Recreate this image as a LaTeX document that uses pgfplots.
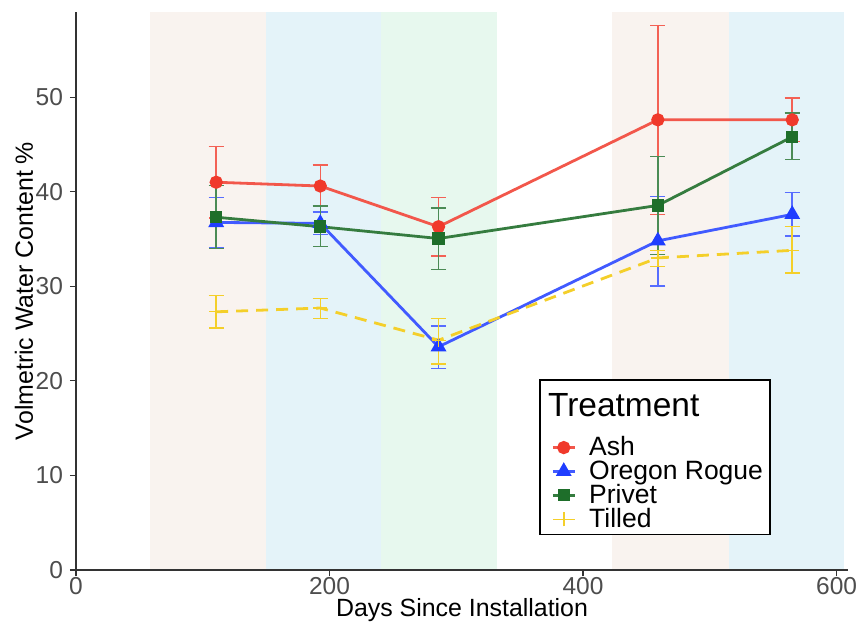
\documentclass[border=0pt]{standalone}
\usepackage{fontspec}
\setmainfont{Liberation Sans}
\usepackage{pgfplots}
\pgfplotsset{compat=1.18}

\definecolor{ashc}{HTML}{F0392B}
\definecolor{orc}{HTML}{1F3DFF}
\definecolor{prc}{HTML}{1E6E2A}
\definecolor{tic}{HTML}{F4CF2A}
\definecolor{bandA}{HTML}{F9F3EF}
\definecolor{bandB}{HTML}{E4F3F9}
\definecolor{bandC}{HTML}{E7F8EE}
\definecolor{tickgray}{HTML}{4D4D4D}

\pgfplotsset{shortleg/.style={legend image code/.code={
    \path (-1.5bp,0bp) (15.5bp,0bp);
    \draw[mark repeat=2, mark phase=2] plot coordinates {(0bp,0bp) (5.5bp,0bp) (11bp,0bp)};}}}

\begin{document}
\begin{tikzpicture}
\useasboundingbox (-38bp,-27.5bp) rectangle (391.5bp,285bp);
\begin{axis}[
    scale only axis,
    width=386bp, height=279bp,
    xmin=0, xmax=609, ymin=0, ymax=59,
    xtick={0,200,400,600}, ytick={0,10,20,30,40,50},
    axis x line*=bottom, axis y line*=left,
    axis on top,
    axis line style={draw=black!80, line width=0.8bp},
    tick style={draw=black!80, line width=0.6bp},
    tick align=outside, major tick length=3bp,
    ticklabel style={font=\fontsize{12.3}{14}\selectfont, text=tickgray},
    xticklabel style={yshift=3bp},
    /pgf/number format/assume math mode=true,
    xlabel={Days Since Installation},
    ylabel={Volmetric Water Content \%},
    label style={font=\fontsize{12.5}{15}\selectfont},
    xlabel style={yshift=5bp},
    ylabel style={yshift=-5.5bp},
    clip=false,
    error bars/y dir=both, error bars/y explicit,
    legend style={at={(0.601,0.063)}, anchor=south west, draw=none, fill=none, yshift=-3bp,
        font=\fontsize{13.3}{13}\selectfont, row sep=-3bp, inner xsep=4bp, inner ysep=3bp},
    legend cell align=left,
]
% seasonal bands
\addplot[fill=bandA, draw=none, forget plot] coordinates {(58.3,0) (149.5,0) (149.5,59) (58.3,59)} -- cycle;
\addplot[fill=bandB, draw=none, forget plot] coordinates {(149.5,0) (240.6,0) (240.6,59) (149.5,59)} -- cycle;
\addplot[fill=bandC, draw=none, forget plot] coordinates {(240.6,0) (332.2,0) (332.2,59) (240.6,59)} -- cycle;
\addplot[fill=bandA, draw=none, forget plot] coordinates {(423,0) (515,0) (515,59) (423,59)} -- cycle;
\addplot[fill=bandB, draw=none, forget plot] coordinates {(515,0) (605.6,0) (605.6,59) (515,59)} -- cycle;

% Ash
\addplot[ashc!85, line width=1.4bp, mark=*, mark size=2.6bp, mark options={fill=ashc, draw=ashc}, shortleg,
    error bars/error bar style={ashc!80, line width=0.75bp},
    error bars/error mark options={rotate=90, mark size=3.8bp, ashc!80, line width=0.75bp}]
coordinates {
(110.6,41.0) += (0,3.8) -= (0,3.8)
(192.7,40.6) += (0,2.2) -= (0,2.1)
(286,36.3) += (0,3.1) -= (0,3.1)
(459,47.6) += (0,10.0) -= (0,10.0)
(565,47.6) += (0,2.3) -= (0,2.3)
};
\addlegendentry{Ash}

% Oregon Rogue
\addplot[orc!85, line width=1.4bp, mark=triangle*, mark size=3.2bp, mark options={fill=orc, draw=orc}, shortleg,
    error bars/error bar style={orc!75, line width=0.75bp},
    error bars/error mark options={rotate=90, mark size=3.8bp, orc!75, line width=0.75bp}]
coordinates {
(110.6,36.75) += (0,2.65) -= (0,2.7)
(192.7,36.65) += (0,1.2) -= (0,1.2)
(286,23.6) += (0,2.2) -= (0,2.3)
(459,34.8) += (0,4.7) -= (0,4.75)
(565,37.6) += (0,2.3) -= (0,2.3)
};
\addlegendentry{Oregon Rogue}

% Privet
\addplot[prc!90!white, line width=1.4bp, mark=square*, mark size=2.4bp, mark options={fill=prc, draw=prc}, shortleg,
    error bars/error bar style={prc!80, line width=0.75bp},
    error bars/error mark options={rotate=90, mark size=3.8bp, prc!80, line width=0.75bp}]
coordinates {
(110.6,37.3) += (0,3.35) -= (0,3.3)
(192.7,36.3) += (0,2.2) -= (0,2.1)
(286,35.05) += (0,3.25) -= (0,3.25)
(459,38.55) += (0,5.15) -= (0,5.2)
(565,45.8) += (0,2.5) -= (0,2.4)
};
\addlegendentry{Privet}

% Tilled
\addplot[tic, line width=1.4bp, dash pattern=on 6bp off 4bp, mark=+, mark size=3.5bp,
    mark options={solid, draw=tic, line width=0.6bp},
    legend image code/.code={\path (-1.5bp,0bp) (15.5bp,0bp);
        \draw[tic, solid, line width=0.8bp] (0bp,0bp) -- (11bp,0bp);
        \draw[tic, solid, line width=0.8bp] (5.5bp,-3.5bp) -- (5.5bp,3.5bp);},
    error bars/error bar style={tic, line width=0.75bp, solid},
    error bars/error mark options={rotate=90, mark size=3.8bp, tic, line width=0.75bp, solid}]
coordinates {
(110.6,27.3) += (0,1.7) -= (0,1.7)
(192.7,27.7) += (0,1.0) -= (0,1.1)
(286,24.3) += (0,2.3) -= (0,2.5)
(459,33.0) += (0,0.8) -= (0,0.9)
(565,33.8) += (0,2.5) -= (0,2.4)
};
\addlegendentry{Tilled}

% legend frame and title
\filldraw[fill=white, draw=black, line width=0.6bp] (rel axis cs:0.601,0.063) rectangle (rel axis cs:0.899,0.3405);
\node[anchor=west, inner sep=0pt, font=\fontsize{16.8}{20}\selectfont] at (rel axis cs:0.611,0.296) {Treatment};
\end{axis}
\end{tikzpicture}
\end{document}
